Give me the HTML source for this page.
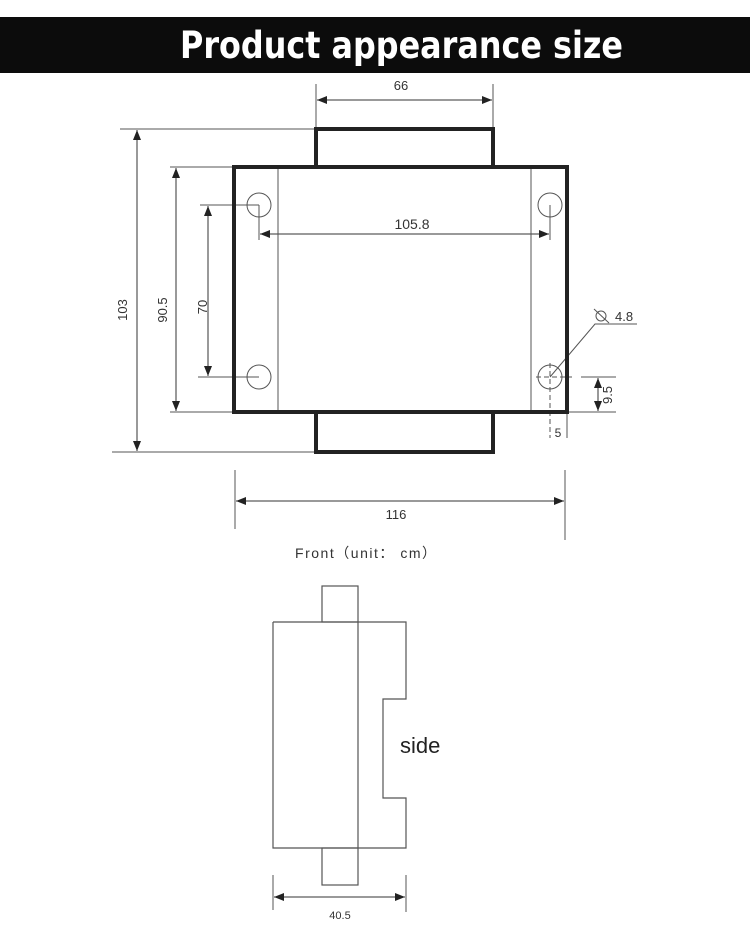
<!DOCTYPE html>
<html><head><meta charset="utf-8"><style>
html,body{margin:0;padding:0;background:#fff;}
svg{display:block;}
text{font-family:"Liberation Sans","DejaVu Sans",sans-serif;fill:#333;}
</style></head><body>
<svg width="750" height="929" viewBox="0 0 750 929" xmlns="http://www.w3.org/2000/svg">
<defs>
<marker id="a" viewBox="0 0 10 10" refX="10" refY="5" markerWidth="10" markerHeight="10" markerUnits="userSpaceOnUse" orient="auto-start-reverse"><path d="M0,1 L10,5 L0,9 z" fill="#222"/></marker>
</defs>
<rect x="0" y="17" width="750" height="56" fill="#0c0c0c"/>
<text x="180" y="58" font-size="37" font-weight="bold" textLength="443" lengthAdjust="spacingAndGlyphs" style="fill:#fff;font-family:'DejaVu Sans Condensed','Liberation Sans',sans-serif">Product appearance size</text>

<g stroke="#555" stroke-width="1" fill="none">
<line x1="316" y1="84" x2="316" y2="129"/><line x1="493" y1="84" x2="493" y2="129"/>
<line x1="317" y1="100" x2="492" y2="100" stroke="#333" marker-start="url(#a)" marker-end="url(#a)"/>
<line x1="120" y1="129" x2="315" y2="129"/><line x1="112" y1="452" x2="315" y2="452"/>
<line x1="137" y1="130" x2="137" y2="451" stroke="#333" marker-start="url(#a)" marker-end="url(#a)"/>
<line x1="170" y1="167" x2="234" y2="167"/><line x1="170" y1="412" x2="234" y2="412"/>
<line x1="176" y1="168" x2="176" y2="411" stroke="#333" marker-start="url(#a)" marker-end="url(#a)"/>
<line x1="200" y1="205" x2="259" y2="205"/><line x1="198" y1="377" x2="259" y2="377"/>
<line x1="208" y1="206" x2="208" y2="376" stroke="#333" marker-start="url(#a)" marker-end="url(#a)"/>
<line x1="259" y1="205" x2="259" y2="240"/><line x1="550" y1="205" x2="550" y2="240"/>
<line x1="260" y1="234" x2="549" y2="234" stroke="#333" marker-start="url(#a)" marker-end="url(#a)"/>
<line x1="278" y1="167" x2="278" y2="412"/><line x1="531" y1="167" x2="531" y2="412"/>
<circle cx="259" cy="205" r="12"/><circle cx="550" cy="205" r="12"/>
<circle cx="259" cy="377" r="12"/><circle cx="550" cy="377" r="12"/>
<line x1="536" y1="377" x2="572" y2="377" stroke-dasharray="5,3"/>
<line x1="550" y1="363" x2="550" y2="438" stroke-dasharray="5,3"/>
<polyline points="550,377 595,324 637,324"/>
<circle cx="601" cy="316" r="5"/><line x1="594" y1="309" x2="609" y2="323"/>
<line x1="581" y1="377" x2="616" y2="377"/><line x1="567" y1="412" x2="616" y2="412"/>
<line x1="598" y1="378" x2="598" y2="411" stroke="#333" marker-start="url(#a)" marker-end="url(#a)"/>
<line x1="567" y1="412" x2="567" y2="438"/>
<line x1="235" y1="470" x2="235" y2="529"/><line x1="565" y1="470" x2="565" y2="540"/>
<line x1="236" y1="501" x2="564" y2="501" stroke="#333" marker-start="url(#a)" marker-end="url(#a)"/>
</g>
<g stroke="#222" stroke-width="4" fill="none">
<rect x="316" y="129" width="177" height="38"/>
<rect x="316" y="412" width="177" height="40"/>
<rect x="234" y="167" width="333" height="245" fill="none"/>
</g>
<text x="401" y="90" text-anchor="middle" font-size="13">66</text>
<text x="412" y="229" text-anchor="middle" font-size="14">105.8</text>
<text x="615" y="321" font-size="13">4.8</text>
<text x="558" y="437" text-anchor="middle" font-size="12">5</text>
<text x="396" y="519" text-anchor="middle" font-size="13">116</text>
<text transform="translate(127,310) rotate(-90)" text-anchor="middle" font-size="13">103</text>
<text transform="translate(167,310) rotate(-90)" text-anchor="middle" font-size="13">90.5</text>
<text transform="translate(207,307) rotate(-90)" text-anchor="middle" font-size="13">70</text>
<text transform="translate(612,395) rotate(-90)" text-anchor="middle" font-size="13">9.5</text>
<text x="295" y="558" font-size="14" textLength="141" lengthAdjust="spacing" style="font-family:'Liberation Sans','Noto Sans CJK SC',sans-serif">Front（unit： cm）</text>

<g stroke="#555" stroke-width="1.2" fill="none">
<rect x="322" y="586" width="36" height="36"/>
<rect x="322" y="848" width="36" height="37"/>
<polyline points="273,622 406,622 406,699 383,699 383,798 406,798 406,848 273,848 273,622"/>
<line x1="358" y1="622" x2="358" y2="848"/>
<line x1="273" y1="875" x2="273" y2="910" stroke-width="1"/><line x1="406" y1="875" x2="406" y2="912" stroke-width="1"/>
<line x1="274" y1="897" x2="405" y2="897" stroke="#333" stroke-width="1" marker-start="url(#a)" marker-end="url(#a)"/>
</g>
<text x="400" y="753" font-size="22" style="fill:#222">side</text>
<text x="340" y="919" text-anchor="middle" font-size="11">40.5</text>
</svg>
</body></html>
